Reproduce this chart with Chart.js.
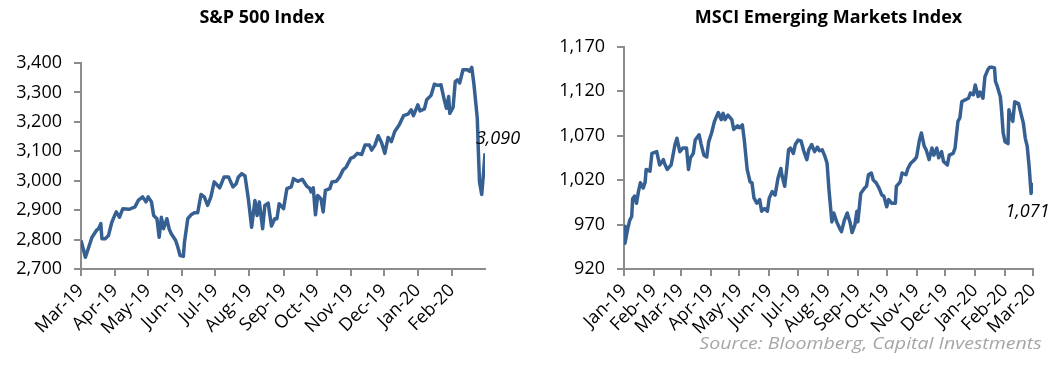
<!DOCTYPE html>
<html lang="en">
<head>
<meta charset="UTF-8">
<title>S&amp;P 500 and MSCI EM</title>
<script src="https://cdn.jsdelivr.net/npm/chart.js"></script>
<style>
    body { margin: 0; background: #fff; width: 1062px; height: 374px; position: relative; overflow: hidden; }
    canvas { position: absolute; top: 0; }
    #spx { left: 0; }
    #msci { left: 530px; }
    .source {
        position: absolute; right: 20px; top: 333px;
        font: italic 17px 'Open Sans', sans-serif; line-height: 20px;
        color: #a6a6a6; white-space: nowrap;
        transform: scaleX(1.15); transform-origin: right center;
    }
</style>
</head>
<body>
<canvas id="spx" width="524" height="374"></canvas>
<canvas id="msci" width="532" height="374"></canvas>
<div class="source">Source: Bloomberg, Capital Investments</div>

<script>
// S&P 500: x = days since 1 Mar 2019
const spxDay = [0, 4, 10, 14, 16, 18, 19, 22, 25, 28, 32, 35, 38, 44, 49, 52, 56, 59, 61, 64,
    66, 69, 71, 73, 75, 78, 80, 82, 86, 88, 90, 93, 94, 97, 100, 103, 106, 109, 112, 115,
    118, 121, 126, 130, 134, 138, 141, 143, 146, 149, 152, 155, 158, 160, 162, 165, 167, 170, 173, 176,
    178, 180, 184, 187, 191, 193, 197, 201, 205, 208, 209, 211, 213, 215, 218, 220, 222, 226, 228, 232,
    235, 238, 241, 245, 248, 251, 255, 258, 262, 264, 267, 270, 273, 276, 279, 282, 285, 289, 293, 297,
    300, 302, 306, 308, 312, 314, 318, 321, 324, 327, 330, 332, 334, 335, 338, 340, 342, 344, 347, 351,
    353, 355, 357, 360, 361, 362, 364, 366, 367];
const spxValue = [2797, 2740, 2808, 2831, 2837, 2854, 2803, 2803, 2814, 2859, 2894, 2876, 2905, 2903, 2911, 2933, 2945, 2928, 2945, 2928,
    2882, 2871, 2808, 2876, 2837, 2871, 2837, 2820, 2797, 2774, 2746, 2743, 2791, 2871, 2884, 2891, 2891, 2953, 2945, 2916,
    2945, 2996, 2976, 3013, 3013, 2979, 2990, 3013, 3024, 3016, 2939, 2842, 2933, 2882, 2928, 2837, 2916, 2924, 2846, 2871,
    2871, 2922, 2905, 2973, 2979, 3007, 2998, 3005, 2982, 2973, 2962, 2976, 2884, 2950, 2939, 2894, 2967, 2973, 2996, 2998,
    3013, 3036, 3047, 3076, 3081, 3093, 3089, 3121, 3121, 3104, 3121, 3153, 3130, 3093, 3147, 3133, 3167, 3189, 3221, 3226,
    3241, 3221, 3258, 3237, 3244, 3275, 3290, 3328, 3324, 3326, 3275, 3246, 3286, 3229, 3249, 3337, 3343, 3332, 3377, 3377,
    3372, 3385, 3326, 3212, 3098, 2996, 2953, 3041, 3093];
const spxTickDay = [0, 31, 61, 92, 122, 153, 184, 214, 245, 275, 306, 337];
const spxTickLabel = ['Mar-19', 'Apr-19', 'May-19', 'Jun-19', 'Jul-19', 'Aug-19', 'Sep-19', 'Oct-19',
    'Nov-19', 'Dec-19', 'Jan-20', 'Feb-20'];
const spxLast = '3,090';

// MSCI EM: x = days since 1 Jan 2019
const msciDay = [0, 1, 4, 6, 8, 9, 11, 13, 15, 17, 20, 22, 23, 27, 29, 34, 37, 41, 42, 45,
    49, 53, 55, 58, 61, 65, 67, 69, 72, 74, 78, 80, 83, 86, 88, 91, 94, 98, 101, 103,
    105, 108, 112, 114, 118, 120, 123, 125, 128, 131, 133, 135, 138, 141, 143, 146, 149, 151, 154, 157,
    160, 163, 164, 167, 169, 171, 173, 176, 178, 181, 184, 187, 190, 192, 195, 198, 201, 203, 206, 209,
    211, 213, 216, 218, 221, 224, 226, 229, 232, 235, 237, 240, 242, 243, 246, 250, 252, 254, 257, 259,
    262, 265, 268, 270, 273, 275, 278, 282, 283, 287, 289, 293, 295, 298, 302, 304, 307, 309, 312, 314,
    317, 320, 322, 325, 327, 330, 332, 336, 338, 342, 344, 347, 349, 351, 354, 358, 360, 363, 365, 368,
    370, 373, 375, 378, 380, 382, 385, 386, 388, 391, 392, 394, 396, 399, 400, 402, 404, 406, 410, 412,
    415, 417, 419, 421, 423, 425];
const msciValue = [968, 949, 966, 975, 979, 999, 1002, 994, 1007, 1017, 1011, 1018, 1032, 1030, 1050, 1052, 1037, 1043, 1039, 1032,
    1037, 1060, 1067, 1052, 1056, 1056, 1032, 1045, 1050, 1065, 1071, 1061, 1048, 1046, 1063, 1073, 1086, 1096, 1088, 1095,
    1088, 1093, 1088, 1077, 1081, 1079, 1082, 1065, 1032, 1018, 1017, 1000, 994, 998, 985, 988, 985, 1000, 1007, 1003,
    1022, 1033, 1026, 1013, 1032, 1054, 1056, 1050, 1060, 1065, 1064, 1052, 1043, 1054, 1060, 1052, 1057, 1053, 1054, 1046,
    1039, 1009, 973, 983, 973, 966, 962, 975, 983, 972, 961, 970, 985, 973, 1005, 1011, 1013, 1026, 1028, 1020,
    1017, 1011, 1003, 1002, 990, 998, 994, 994, 1013, 1018, 1028, 1026, 1033, 1039, 1043, 1046, 1065, 1073, 1058, 1054,
    1043, 1056, 1048, 1056, 1045, 1052, 1041, 1037, 1048, 1050, 1056, 1086, 1090, 1108, 1110, 1112, 1118, 1116, 1127, 1114,
    1119, 1112, 1136, 1144, 1147, 1147, 1146, 1131, 1125, 1114, 1103, 1073, 1063, 1061, 1099, 1091, 1086, 1108, 1106, 1097,
    1084, 1067, 1058, 1035, 1005, 1017];
const msciTickDay = [0, 31, 59, 90, 120, 151, 181, 212, 243, 273, 304, 334, 365, 396, 425];
const msciTickLabel = ['Jan-19', 'Feb-19', 'Mar-19', 'Apr-19', 'May-19', 'Jun-19', 'Jul-19', 'Aug-19',
    'Sep-19', 'Oct-19', 'Nov-19', 'Dec-19', 'Jan-20', 'Feb-20', 'Mar-20'];
const msciLast = '1,071';

const lineColor = '#376092';
const axisColor = '#8c8c8c';
Chart.defaults.font.family = "'Open Sans', sans-serif";
Chart.defaults.font.size = 18;
Chart.defaults.color = '#000';

// writes the last value next to the end of the line
const endLabel = {
    id: 'endLabel',
    afterDatasetsDraw(chart, args, opts) {
        const pts = chart.getDatasetMeta(0).data;
        const p = pts[pts.length - 1];
        const ctx = chart.ctx;
        ctx.save();
        ctx.font = "italic 18px 'Open Sans', sans-serif";
        ctx.fillStyle = '#000';
        ctx.textAlign = 'center';
        ctx.textBaseline = 'middle';
        ctx.fillText(opts.text, p.x + opts.dx, p.y + opts.dy);
        ctx.restore();
    }
};

function makeChart(id, cfg) {
    const points = cfg.days.map((d, i) => ({ x: d, y: cfg.values[i] }));
    return new Chart(document.getElementById(id), {
        type: 'line',
        data: {
            datasets: [{
                data: points,
                borderColor: lineColor,
                borderWidth: 3.5,
                pointRadius: 0,
                tension: 0,
                borderJoinStyle: 'round'
            }]
        },
        options: {
            responsive: false,
            animation: false,
            events: [],
            layout: { padding: { left: 0, right: cfg.padRight, top: 0, bottom: 0 } },
            plugins: {
                legend: { display: false },
                tooltip: { enabled: false },
                title: {
                    display: true,
                    text: cfg.title,
                    fullSize: cfg.fullTitle,
                    color: '#000',
                    font: { size: 18, weight: 'bold', lineHeight: 1.2 },
                    padding: { top: 7, bottom: cfg.titleGap }
                },
                endLabel: { text: cfg.last, dx: cfg.dx, dy: cfg.dy }
            },
            scales: {
                x: {
                    type: 'linear',
                    min: cfg.xMin,
                    max: cfg.xMax,
                    afterBuildTicks: s => { s.ticks = cfg.tickDays.map(v => ({ value: v })); },
                    afterFit: s => { s.height = cfg.xHeight; s.paddingLeft = 0; s.paddingRight = 0; },
                    ticks: {
                        autoSkip: false,
                        minRotation: 45,
                        maxRotation: 45,
                        padding: 4,
                        callback: (v, i) => cfg.tickLabels[i]
                    },
                    grid: { drawOnChartArea: false, color: axisColor, lineWidth: 2, tickLength: 7 },
                    border: { color: axisColor, width: 2 }
                },
                y: {
                    min: cfg.yMin,
                    max: cfg.yMax,
                    afterFit: s => { s.width = cfg.yWidth; s.paddingTop = 0; s.paddingBottom = 0; },
                    ticks: { stepSize: cfg.yStep, padding: 12 },
                    grid: { drawOnChartArea: false, color: axisColor, lineWidth: 2, tickLength: 7 },
                    border: { color: axisColor, width: 2 }
                },
                // empty right-hand strip: keeps the plot narrow while the title centres on the whole canvas
                gap: {
                    type: 'linear',
                    position: 'right',
                    display: cfg.gapWidth > 0,
                    afterFit: s => { s.width = cfg.gapWidth; s.paddingTop = 0; s.paddingBottom = 0; },
                    ticks: { display: false },
                    grid: { display: false },
                    border: { display: false }
                }
            }
        },
        plugins: [endLabel]
    });
}

makeChart('spx', {
    title: 'S&P 500 Index', fullTitle: true, titleGap: 34.4,
    days: spxDay, values: spxValue, tickDays: spxTickDay, tickLabels: spxTickLabel,
    xMin: 0, xMax: 367, yMin: 2700, yMax: 3400, yStep: 100,
    yWidth: 81, xHeight: 105, padRight: 0, gapWidth: 39,
    last: spxLast, dx: 13, dy: -14
});

makeChart('msci', {
    title: 'MSCI Emerging Markets Index', fullTitle: false, titleGap: 18.1,
    days: msciDay, values: msciValue, tickDays: msciTickDay, tickLabels: msciTickLabel,
    xMin: 0, xMax: 425, yMin: 920, yMax: 1170, yStep: 50,
    yWidth: 94, xHeight: 105, padRight: 29, gapWidth: 0,
    last: msciLast, dx: -5.5, dy: 29
});
</script>
</body>
</html>
